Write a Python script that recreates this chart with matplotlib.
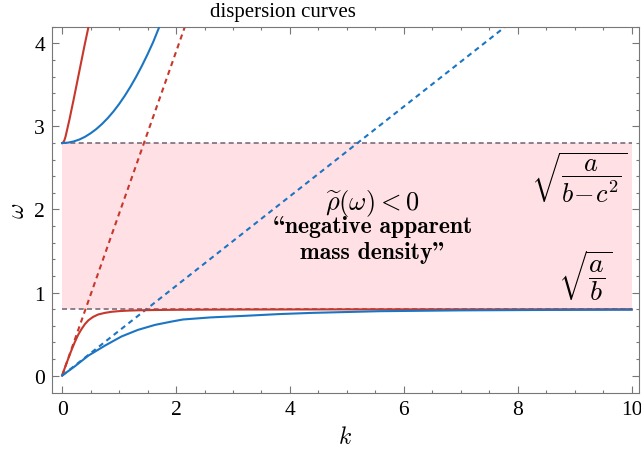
# dispersion curves with band gap (negative apparent mass density)
import matplotlib
matplotlib.use('Agg')
import matplotlib.pyplot as plt
import numpy as np

# curves
k_red_low = [0, 0.05, 0.105, 0.16, 0.22, 0.28, 0.34, 0.40, 0.46, 0.54, 0.63, 0.75, 0.87, 1.0, 1.16, 1.35, 1.6, 2.0, 3.0, 5.0, 10.0]
w_red_low = [0, 0.10, 0.20, 0.30, 0.40, 0.49, 0.56, 0.62, 0.665, 0.705, 0.735, 0.755, 0.768, 0.776, 0.782, 0.786, 0.789, 0.792, 0.795, 0.797, 0.798]
k_blue_low = [0, 0.22, 0.46, 0.75, 1.04, 1.33, 1.63, 1.92, 2.12, 2.6, 3.23, 3.8, 4.4, 5.57, 7.0, 8.5, 10.0]
w_blue_low = [0, 0.11, 0.24, 0.36, 0.47, 0.55, 0.61, 0.65, 0.675, 0.70, 0.72, 0.74, 0.755, 0.775, 0.785, 0.79, 0.793]
k_red_up = [0, 0.02, 0.04, 0.06, 0.08, 0.10, 0.13, 0.16, 0.20, 0.25, 0.30, 0.35, 0.40, 0.45, 0.50]
w_red_up = [2.8, 2.81, 2.835, 2.88, 2.94, 3.0, 3.09, 3.19, 3.32, 3.49, 3.66, 3.83, 4.0, 4.16, 4.32]
k_blue_up = [0, 0.1, 0.2, 0.3, 0.4, 0.5, 0.6, 0.7, 0.8, 0.9, 1.0, 1.1, 1.2, 1.3, 1.4, 1.5, 1.6, 1.7, 1.8]
w_blue_up = [2.8, 2.805, 2.819, 2.842, 2.875, 2.918, 2.969, 3.03, 3.10, 3.18, 3.27, 3.37, 3.48, 3.60, 3.73, 3.87, 4.02, 4.19, 4.36]
k_red_dash = [0, 2.2]
w_red_dash = [0, 4.29]
k_blue_dash = [0, 8.0]
w_blue_dash = [0, 4.32]
gap_low, gap_high = 0.8, 2.8
k_max = 10

red = '#c8372b'
blue = '#1b75c2'
gray = '#777777'

plt.rcParams['mathtext.fontset'] = 'cm'
serif = ['Liberation Serif', 'DejaVu Serif']

fig = plt.figure(figsize=(6.41, 4.56), dpi=100)
ax = fig.add_axes([0.081, 0.136, 0.916, 0.803])

ax.fill_between([0, k_max], gap_low, gap_high, color='#ffe1e5', lw=0, zorder=0)
ax.plot([0, k_max], [gap_high, gap_high], ls=(0, (3, 2)), color='#7d6b7a', lw=1.2, zorder=1)
ax.plot([0, k_max], [gap_low, gap_low], ls=(0, (3, 2)), color='#7d6b7a', lw=1.2, zorder=1)

ax.plot(k_red_dash, w_red_dash, ls=(0, (2.5, 2)), color=red, lw=1.5, zorder=2)
ax.plot(k_blue_dash, w_blue_dash, ls=(0, (2.5, 2)), color=blue, lw=1.5, zorder=2)
ax.plot(k_red_low, w_red_low, color=red, lw=1.5, zorder=3)
ax.plot(k_blue_low, w_blue_low, color=blue, lw=1.5, zorder=3)
ax.plot(k_red_up, w_red_up, color=red, lw=1.5, zorder=3)
ax.plot(k_blue_up, w_blue_up, color=blue, lw=1.5, zorder=3)

ax.set_xlim(-0.18, 10.13)
ax.set_ylim(-0.21, 4.2)
ax.set_xticks([0, 2, 4, 6, 8, 10])
ax.set_yticks([0, 1, 2, 3, 4])
ax.set_xticks(np.arange(0, 10.5, 0.5), minor=True)
ax.set_yticks(np.arange(0, 4.21, 0.2), minor=True)
ax.tick_params(which='both', direction='in', top=True, right=True, color=gray, width=0.8)
ax.tick_params(which='major', length=5, labelsize=15.5, pad=5)
ax.tick_params(which='minor', length=2.5)
ax.tick_params(top=True, right=True, labeltop=False, labelright=False)
for lab in ax.get_xticklabels() + ax.get_yticklabels():
    lab.set_family(serif)
for s in ax.spines.values():
    s.set_color(gray)
    s.set_linewidth(0.8)

ax.set_xlabel(r'$k$', fontsize=17, labelpad=4)
ax.set_ylabel(r'$\omega$', fontsize=17, labelpad=4)
fig.text(283 / 641, 1 - 13 / 456, 'dispersion curves', ha='center', va='center',
         fontsize=15, family=serif)

ax.text(5.45, 2.09, r'$\widetilde{\rho}(\omega) < 0$', ha='center', va='center', fontsize=19)
# cmb10 uses the TeX text encoding: "\" is the opening and '"' the closing double quote
ax.text(5.45, 1.80, '\\negative apparent', ha='center', va='center', fontsize=17,
        family=['cmb10', 'DejaVu Serif'])
ax.text(5.45, 1.49, 'mass density"', ha='center', va='center', fontsize=17,
        family=['cmb10', 'DejaVu Serif'])
ax.text(9.94, 2.39, r'$\sqrt{\dfrac{a}{b\!-\!c^2}}$', ha='right', va='center', fontsize=19)
ax.text(9.66, 1.21, r'$\sqrt{\dfrac{a}{b}}$', ha='right', va='center', fontsize=20)

fig.savefig('out.png', dpi=100)
